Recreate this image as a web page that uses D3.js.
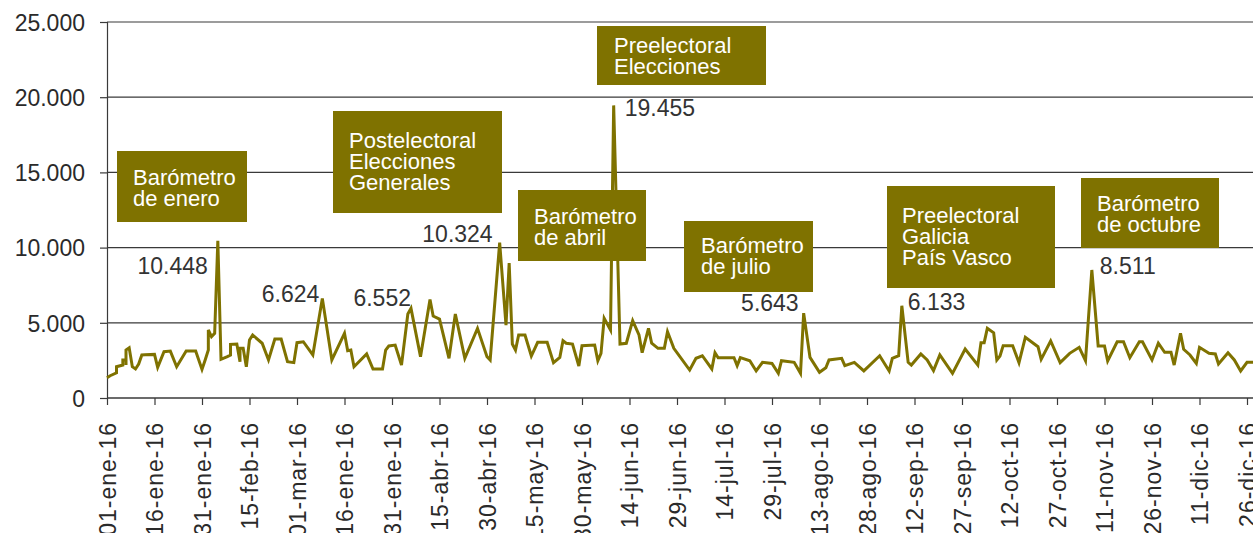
<!DOCTYPE html>
<html><head><meta charset="utf-8">
<script src="https://cdn.jsdelivr.net/npm/d3@7"></script>
<style>
html,body{margin:0;padding:0;background:#fff;}
svg{display:block;font-family:"Liberation Sans",Arial,Helvetica,sans-serif;}
</style></head><body>
<svg id="c" width="1253" height="533"></svg>
<script>
// ---- data (day of year index, daily value) ----
const days = [0,1,3,3,5,5,6,6,6,6,7,8,9,10,11,12,15,16,18,20,22,25,28,30,31,32,32,33,34,35,36,38,39,39,41,42,42,43,44,45,46,49,51,53,55,57,59,60,62,65,68,71,75,76,77,78,82,84,87,88,89,91,93,95,96,99,102,103,105,108,110,113,117,120,121,124,126,127,128,129,130,132,134,136,139,141,143,144,145,147,149,150,154,155,156,157,159,160,162,164,166,168,169,171,172,174,176,177,179,184,186,188,191,192,193,198,199,200,203,205,207,210,212,213,217,219,220,222,225,227,228,232,233,236,239,244,247,248,250,251,253,254,257,259,261,263,267,271,275,276,277,278,280,281,282,283,286,288,290,294,295,298,301,304,307,309,311,313,315,316,319,321,323,326,327,330,332,334,336,337,339,340,342,344,345,348,350,351,354,356,358,360,363];
const values = [1350,1480,1680,2080,2190,2530,2530,2970,2190,3190,3340,2080,1930,2260,2860,2880,2900,2040,3080,3120,2080,3120,3120,1900,2530,3190,4520,4080,4300,10448,2570,2750,2860,3570,3590,2410,3300,3300,2080,3860,4190,3640,2530,3920,3920,2410,2350,3680,3740,2860,6624,2530,4300,3150,3190,2080,2930,1930,1930,3190,3460,3520,2190,5585,5960,2750,6552,5450,5250,2640,5585,2640,4630,2750,2530,10324,4850,8967,3590,3190,4190,4190,2790,3700,3700,2350,2700,3810,3640,3590,2130,3480,3520,2480,2970,5300,4520,19455,3590,3640,5140,4190,3010,4630,3640,3300,3300,4410,3300,1860,2640,2810,1930,3010,2680,2680,2150,2680,2480,1800,2370,2300,1640,2480,2370,1640,5643,2700,1710,2010,2530,2640,2150,2370,1800,2810,1800,2640,2810,6133,2370,2190,2930,2530,1820,2860,1640,3260,2190,3680,3680,4630,4340,2530,2790,3480,3480,2350,4030,3410,2570,3790,2350,2970,3370,2480,8511,3460,3460,2460,3740,3740,2680,3740,3740,2530,3640,3040,3040,2190,4300,3240,2860,2300,3370,2970,2930,2260,3010,2530,1800,2370,2370];

const tickDays = [0,15,30,45,60,75,90,105,120,135,150,165,180,195,210,225,240,255,270,285,300,315,330,345,360];
const tickLabels = ["01-ene-16","16-ene-16","31-ene-16","15-feb-16","01-mar-16","16-ene-16","31-ene-16","15-abr-16","30-abr-16","15-may-16","30-may-16","14-jun-16","29-jun-16","14-jul-16","29-jul-16","13-ago-16","28-ago-16","12-sep-16","27-sep-16","12-oct-16","27-oct-16","11-nov-16","26-nov-16","11-dic-16","26-dic-16"];
const yTicks = [0,5000,10000,15000,20000,25000];

// peak labels (day index of the peak, text)
const peakDays = [35,68,102,124,127,160,220,251,311];
const peakTexts = ["10.448","6.624","6.552","10.324","8.967","19.455","5.643","6.133","8.511"];

// annotation boxes
const boxTexts = [
  ["Barómetro","de enero"],
  ["Postelectoral","Elecciones","Generales"],
  ["Barómetro","de abril"],
  ["Preelectoral","Elecciones"],
  ["Barómetro","de julio"],
  ["Preelectoral","Galicia","País Vasco"],
  ["Barómetro","de octubre"]
];

// ---- layout / styles ----
const OLIVE = "#7f7200";
const TEXT = "#2a2a2a";
const svg = d3.select("#c");
const x = d3.scaleLinear().domain([0,360]).range([107,1247]);
const y = d3.scaleLinear().domain([0,25000]).range([398,22]);
const fmt = v => d3.format(",")(v).replace(/,/g,".");

// gridlines
svg.append("g").selectAll("line").data(yTicks).join("line")
  .attr("x1",107).attr("x2",1253)
  .attr("y1",d=>y(d)).attr("y2",d=>y(d))
  .attr("stroke","#3a3a3a").attr("stroke-width",1.2);

// y axis
const yAxis = svg.append("g").attr("transform","translate(107,0)")
  .call(d3.axisLeft(y).tickValues(yTicks).tickSize(7).tickPadding(15).tickFormat(fmt));
yAxis.select(".domain").attr("stroke","#3a3a3a").attr("stroke-width",1.2);
yAxis.selectAll(".tick line").attr("stroke","#3a3a3a").attr("stroke-width",1.2);
yAxis.selectAll("text").attr("font-size",23).attr("fill",TEXT).attr("font-family",null).attr("dy","0.36em");

// x axis
const xAxis = svg.append("g").attr("transform","translate(0,398)")
  .call(d3.axisBottom(x).tickValues(tickDays).tickSize(7).tickSizeOuter(0).tickFormat((d,i)=>tickLabels[i]));
xAxis.select(".domain").attr("stroke","#3a3a3a").attr("stroke-width",1.2).attr("d","M107,0H1253");
xAxis.selectAll(".tick line").attr("stroke","#3a3a3a").attr("stroke-width",1.2);
xAxis.selectAll("text")
  .attr("font-size",23).attr("fill",TEXT).attr("font-family",null)
  .attr("letter-spacing","1px")
  .attr("text-anchor","end")
  .attr("transform","translate(0,24) rotate(-90)")
  .attr("x",0).attr("y",0).attr("dy","0.36em");

// line
const pts = days.map((d,i)=>[d,values[i]]);
svg.append("path").datum(pts)
  .attr("fill","none").attr("stroke",OLIVE).attr("stroke-width",3)
  .attr("stroke-linejoin","miter").attr("stroke-miterlimit",4)
  .attr("d",d3.line().x(d=>x(d[0])).y(d=>y(d[1])));

// peak labels: offsets relative to the peak point
const peakOffsets = [
  {dx:-10,dy:33,a:"end"},{dx:-3,dy:4,a:"end"},{dx:-19,dy:7,a:"end"},
  {dx:-7,dy:-1,a:"end"},{dx:9,dy:-6,a:"start"},{dx:11,dy:11,a:"start"},
  {dx:-5,dy:-2,a:"end"},{dx:6,dy:4,a:"start"},{dx:8,dy:4,a:"start"}
];
svg.append("g").selectAll("text").data(peakDays).join("text")
  .attr("x",(d,i)=>x(d)+peakOffsets[i].dx)
  .attr("y",(d,i)=>y(values[days.indexOf(d)])+peakOffsets[i].dy)
  .attr("text-anchor",(d,i)=>peakOffsets[i].a)
  .attr("font-size",23).attr("fill","#333")
  .text((d,i)=>peakTexts[i]);

// annotation boxes (pixel layout)
const boxLayout = [
  {l:117,t:151,r:247,b:222,tx:133,by:[185,206]},
  {l:333,t:111,r:502,b:213,tx:349,by:[148,169,190]},
  {l:518,t:190,r:646,b:261,tx:534,by:[224,245]},
  {l:597,t:26,r:766,b:85,tx:614,by:[53,74]},
  {l:684,t:221,r:813,b:292,tx:701,by:[253,274]},
  {l:887,t:186,r:1055,b:288,tx:902,by:[223,244,265]},
  {l:1081,t:178,r:1219,b:248,tx:1097,by:[211,232]}
];
const bg = svg.append("g").selectAll("g").data(boxTexts).join("g");
bg.append("rect")
  .attr("x",(d,i)=>boxLayout[i].l).attr("y",(d,i)=>boxLayout[i].t)
  .attr("width",(d,i)=>boxLayout[i].r-boxLayout[i].l)
  .attr("height",(d,i)=>boxLayout[i].b-boxLayout[i].t)
  .attr("fill",OLIVE);
bg.each(function(lines,i){
  const g = d3.select(this);
  lines.forEach((s,j)=>{
    g.append("text").attr("x",boxLayout[i].tx).attr("y",boxLayout[i].by[j])
      .attr("font-size",22).attr("fill","#fff").text(s);
  });
});
</script>
</body></html>
